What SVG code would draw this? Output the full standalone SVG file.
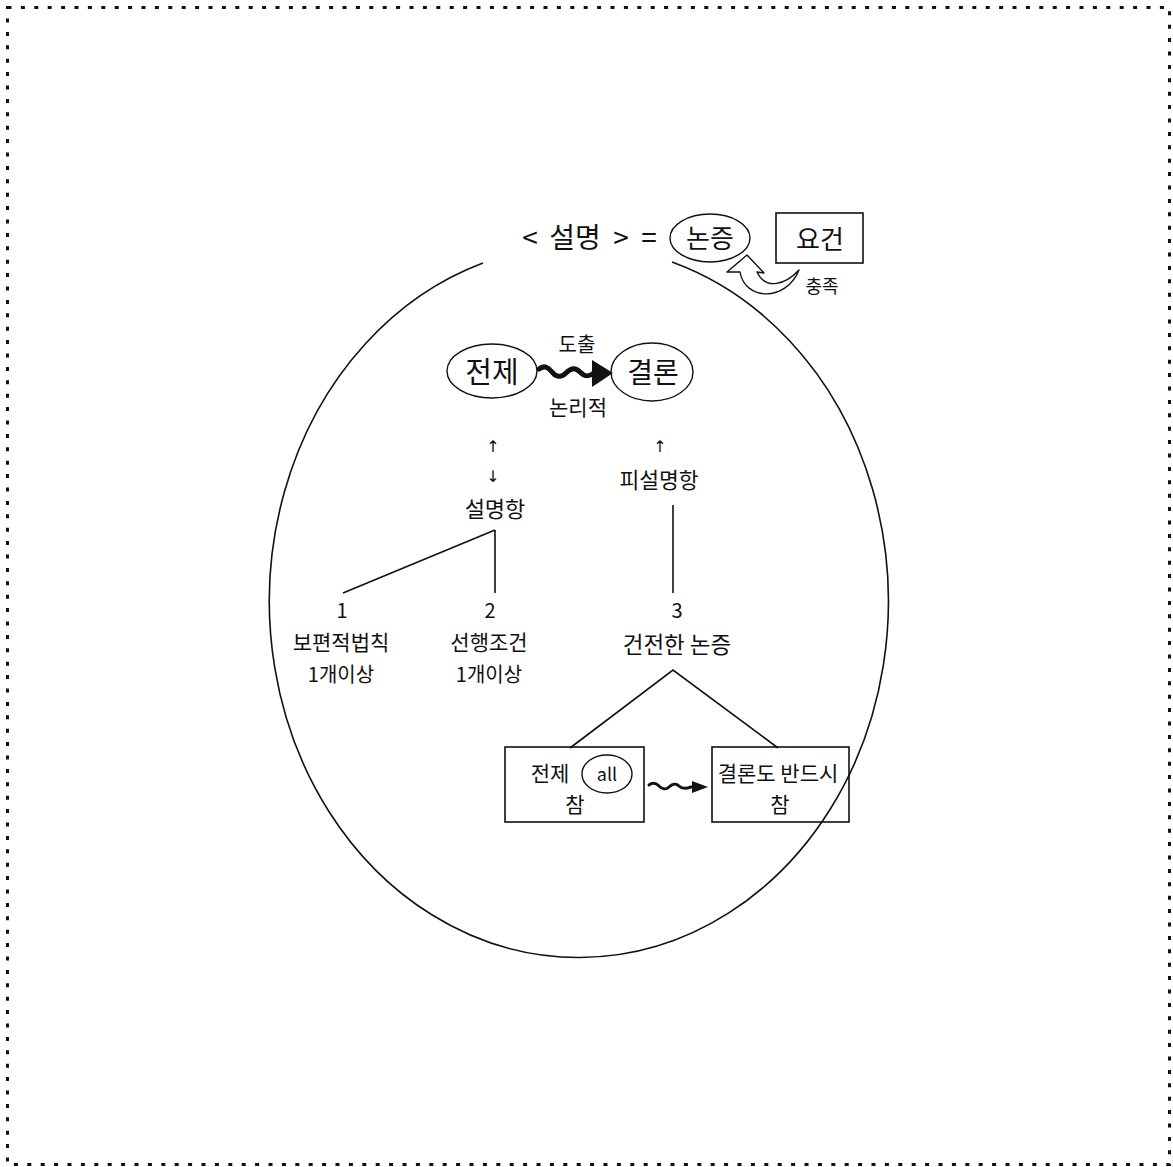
<svg xmlns="http://www.w3.org/2000/svg" width="1173" height="1167" viewBox="0 0 1173 1167">
<style>
text{font-family:"Noto Sans CJK KR","Noto Sans",sans-serif;fill:#111;text-anchor:middle;dominant-baseline:central}
.ar{font-family:"DejaVu Sans",sans-serif;font-size:16px}
.ln{fill:none;stroke:#111;stroke-width:1.6}
.bx{fill:none;stroke:#111;stroke-width:1.6}
.el{fill:none;stroke:#111;stroke-width:1.4}
</style>
<rect x="7.5" y="7.5" width="1162" height="1157" fill="#fff" stroke="#111" stroke-width="3" stroke-dasharray="4 9.4"/>
<g id="connectors">
<path class="ln" d="M 672 262 A 309.5 356 0 1 1 483 263"/>
<path d="M 799 270 C 786 284 766 291 757 272 L 764 273 L 747 255 L 727 272 L 740 272 C 745 301 786 302 799 270 Z" fill="#fff" stroke="#111" stroke-width="1.4" stroke-linejoin="round"/>
<path d="M 539 369 c 5 -4 9 -2 13 3 s 9 6 14 1 s 9 -6 14 -1 s 9 5 14 1" fill="none" stroke="#111" stroke-width="5" stroke-linecap="round"/>
<polygon points="592,360 613,373 592,387" fill="#111"/>
<path class="ln" d="M 495 530 L 343 593 M 495 530 L 495 593"/>
<path class="ln" d="M 673 505 L 673 593"/>
<path class="ln" d="M 570 748 L 673 670 L 778 748"/>
<path d="M 649 785 c 4 -3 7 -2 10 1 s 7 4 10 1 s 7 -4 10 -1 s 7 3 12 1" fill="none" stroke="#111" stroke-width="3" stroke-linecap="round"/>
<polygon points="692,781 708,787 692,793" fill="#111"/>
<text class="ar" x="493" y="446">↑</text>
<text class="ar" x="493" y="476">↓</text>
<text class="ar" x="660" y="446">↑</text>
</g>
<g id="title"><text y="236" font-size="28"><tspan x="530">&lt;</tspan><tspan x="575">설명</tspan><tspan x="621">&gt;</tspan><tspan x="649">=</tspan></text></g>
<g id="nonjeung"><ellipse class="el" cx="710" cy="238" rx="40" ry="24"/><text x="710" y="236" font-size="26">논증</text></g>
<g id="yogeon"><rect class="bx" x="776" y="213" width="87" height="50"/><text x="820" y="237" font-size="26">요건</text></g>
<g id="chungjok"><text x="822" y="285" font-size="18">충족</text></g>
<g id="jeonje"><ellipse class="el" cx="492" cy="371" rx="45" ry="27"/><text x="492" y="370" font-size="29">전제</text></g>
<g id="gyeollon"><ellipse class="el" cx="652" cy="372" rx="41" ry="29"/><text x="653" y="371" font-size="28">결론</text></g>
<g id="dochul"><text x="577" y="343" font-size="20">도출</text></g>
<g id="nonrijeok"><text x="578" y="406" font-size="21">논리적</text></g>
<g id="seolmyeonghang"><text x="495" y="507" font-size="22">설명항</text></g>
<g id="piseolmyeonghang"><text x="659" y="478" font-size="21.5">피설명항</text></g>
<g id="n1"><text x="342" y="609" font-size="20">1</text><text x="341" y="641" font-size="21">보편적법칙</text><text x="341" y="673" font-size="20">1개이상</text></g>
<g id="n2"><text x="490" y="609" font-size="20">2</text><text x="489" y="641" font-size="21">선행조건</text><text x="489" y="673" font-size="20">1개이상</text></g>
<g id="n3"><text x="677" y="609" font-size="20">3</text><text x="677" y="643" font-size="22.5">건전한 논증</text></g>
<g id="box1"><rect class="bx" x="505" y="747" width="139" height="75"/><text x="550" y="772" font-size="21">전제</text><ellipse class="el" cx="607" cy="774" rx="25" ry="19"/><text x="607" y="773" font-size="18">all</text><text x="575" y="803" font-size="21">참</text></g>
<g id="box2"><rect class="bx" x="712" y="747" width="137" height="75"/><text x="778" y="772" font-size="21">결론도 반드시</text><text x="780" y="803" font-size="21">참</text></g>
</svg>
